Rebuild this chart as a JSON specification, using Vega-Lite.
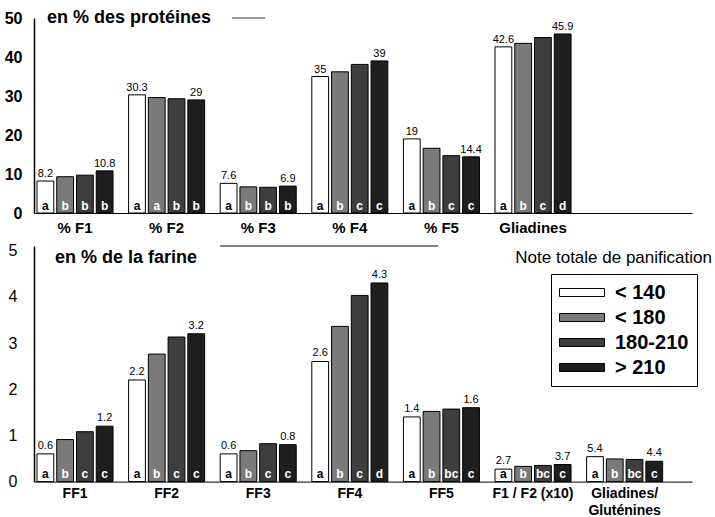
{
  "$schema": "https://vega.github.io/schema/vega-lite/v6.json",
  "padding": {"left": 4, "top": 9, "right": 0, "bottom": 0},
  "background": "white",
  "config": {
    "font": "Liberation Sans",
    "view": {"stroke": null},
    "axis": {"grid": false, "ticks": false, "domainColor": "black", "labelColor": "black", "title": null, "labelOverlap": false}
  },
  "datasets": {
    "proteines": [
      {"fraction": "% F1", "classe": "< 140", "valeur": 8.2, "etiquette": "8.2", "lettre": "a"},
      {"fraction": "% F1", "classe": "< 180", "valeur": 9.3, "etiquette": "", "lettre": "b"},
      {"fraction": "% F1", "classe": "180-210", "valeur": 9.7, "etiquette": "", "lettre": "b"},
      {"fraction": "% F1", "classe": "> 210", "valeur": 10.8, "etiquette": "10.8", "lettre": "b"},
      {"fraction": "% F2", "classe": "< 140", "valeur": 30.3, "etiquette": "30.3", "lettre": "a"},
      {"fraction": "% F2", "classe": "< 180", "valeur": 29.6, "etiquette": "", "lettre": "a"},
      {"fraction": "% F2", "classe": "180-210", "valeur": 29.3, "etiquette": "", "lettre": "b"},
      {"fraction": "% F2", "classe": "> 210", "valeur": 29, "etiquette": "29", "lettre": "b"},
      {"fraction": "% F3", "classe": "< 140", "valeur": 7.6, "etiquette": "7.6", "lettre": "a"},
      {"fraction": "% F3", "classe": "< 180", "valeur": 6.7, "etiquette": "", "lettre": "b"},
      {"fraction": "% F3", "classe": "180-210", "valeur": 6.6, "etiquette": "", "lettre": "b"},
      {"fraction": "% F3", "classe": "> 210", "valeur": 6.9, "etiquette": "6.9", "lettre": "b"},
      {"fraction": "% F4", "classe": "< 140", "valeur": 35, "etiquette": "35", "lettre": "a"},
      {"fraction": "% F4", "classe": "< 180", "valeur": 36.2, "etiquette": "", "lettre": "b"},
      {"fraction": "% F4", "classe": "180-210", "valeur": 38.1, "etiquette": "", "lettre": "c"},
      {"fraction": "% F4", "classe": "> 210", "valeur": 39, "etiquette": "39", "lettre": "c"},
      {"fraction": "% F5", "classe": "< 140", "valeur": 19, "etiquette": "19", "lettre": "a"},
      {"fraction": "% F5", "classe": "< 180", "valeur": 16.6, "etiquette": "", "lettre": "b"},
      {"fraction": "% F5", "classe": "180-210", "valeur": 14.7, "etiquette": "", "lettre": "c"},
      {"fraction": "% F5", "classe": "> 210", "valeur": 14.4, "etiquette": "14.4", "lettre": "c"},
      {"fraction": "Gliadines", "classe": "< 140", "valeur": 42.6, "etiquette": "42.6", "lettre": "a"},
      {"fraction": "Gliadines", "classe": "< 180", "valeur": 43.5, "etiquette": "", "lettre": "b"},
      {"fraction": "Gliadines", "classe": "180-210", "valeur": 45.0, "etiquette": "", "lettre": "c"},
      {"fraction": "Gliadines", "classe": "> 210", "valeur": 45.9, "etiquette": "45.9", "lettre": "d"}
    ],
    "farine": [
      {"fraction": "FF1", "classe": "< 140", "valeur": 0.6, "etiquette": "0.6", "lettre": "a"},
      {"fraction": "FF1", "classe": "< 180", "valeur": 0.91, "etiquette": "", "lettre": "b"},
      {"fraction": "FF1", "classe": "180-210", "valeur": 1.08, "etiquette": "", "lettre": "c"},
      {"fraction": "FF1", "classe": "> 210", "valeur": 1.2, "etiquette": "1.2", "lettre": "c"},
      {"fraction": "FF2", "classe": "< 140", "valeur": 2.2, "etiquette": "2.2", "lettre": "a"},
      {"fraction": "FF2", "classe": "< 180", "valeur": 2.76, "etiquette": "", "lettre": "b"},
      {"fraction": "FF2", "classe": "180-210", "valeur": 3.13, "etiquette": "", "lettre": "c"},
      {"fraction": "FF2", "classe": "> 210", "valeur": 3.2, "etiquette": "3.2", "lettre": "c"},
      {"fraction": "FF3", "classe": "< 140", "valeur": 0.6, "etiquette": "0.6", "lettre": "a"},
      {"fraction": "FF3", "classe": "< 180", "valeur": 0.67, "etiquette": "", "lettre": "b"},
      {"fraction": "FF3", "classe": "180-210", "valeur": 0.82, "etiquette": "", "lettre": "c"},
      {"fraction": "FF3", "classe": "> 210", "valeur": 0.8, "etiquette": "0.8", "lettre": "c"},
      {"fraction": "FF4", "classe": "< 140", "valeur": 2.6, "etiquette": "2.6", "lettre": "a"},
      {"fraction": "FF4", "classe": "< 180", "valeur": 3.36, "etiquette": "", "lettre": "b"},
      {"fraction": "FF4", "classe": "180-210", "valeur": 4.03, "etiquette": "", "lettre": "c"},
      {"fraction": "FF4", "classe": "> 210", "valeur": 4.3, "etiquette": "4.3", "lettre": "d"},
      {"fraction": "FF5", "classe": "< 140", "valeur": 1.4, "etiquette": "1.4", "lettre": "a"},
      {"fraction": "FF5", "classe": "< 180", "valeur": 1.52, "etiquette": "", "lettre": "b"},
      {"fraction": "FF5", "classe": "180-210", "valeur": 1.57, "etiquette": "", "lettre": "bc"},
      {"fraction": "FF5", "classe": "> 210", "valeur": 1.6, "etiquette": "1.6", "lettre": "c"},
      {"fraction": "F1 / F2 (x10)", "classe": "< 140", "valeur": 0.27, "etiquette": "2.7", "lettre": "a"},
      {"fraction": "F1 / F2 (x10)", "classe": "< 180", "valeur": 0.33, "etiquette": "", "lettre": "b"},
      {"fraction": "F1 / F2 (x10)", "classe": "180-210", "valeur": 0.35, "etiquette": "", "lettre": "bc"},
      {"fraction": "F1 / F2 (x10)", "classe": "> 210", "valeur": 0.37, "etiquette": "3.7", "lettre": "c"},
      {"fraction": "Gliadines/Gluténines", "classe": "< 140", "valeur": 0.54, "etiquette": "5.4", "lettre": "a"},
      {"fraction": "Gliadines/Gluténines", "classe": "< 180", "valeur": 0.49, "etiquette": "", "lettre": "b"},
      {"fraction": "Gliadines/Gluténines", "classe": "180-210", "valeur": 0.48, "etiquette": "", "lettre": "bc"},
      {"fraction": "Gliadines/Gluténines", "classe": "> 210", "valeur": 0.44, "etiquette": "4.4", "lettre": "c"}
    ]
  },
  "bounds": "flush",
  "spacing": 33,
  "vconcat": [
    {
      "width": 658,
      "height": 195,
      "data": {"name": "proteines"},
      "encoding": {
        "x": {
          "field": "fraction", "type": "nominal",
          "scale": {"domain": ["% F1", "% F2", "% F3", "% F4", "% F5", "Gliadines"], "paddingInner": 0.17, "paddingOuter": 0.6766, "align": 0.0242},
          "axis": {"labelAngle": 0, "labelFontWeight": "bold", "labelFontSize": 15, "labelPadding": 7}
        },
        "y": {
          "field": "valeur", "type": "quantitative",
          "scale": {"domain": [0, 50], "nice": false},
          "axis": {"values": [0, 10, 20, 30, 40, 50], "labelFontWeight": "bold", "labelFontSize": 16, "labelPadding": 12, "domainWidth": 1.5}
        }
      },
      "layer": [
        {
          "mark": {"type": "bar", "stroke": "black", "strokeWidth": 1},
          "encoding": {
            "xOffset": {"field": "classe", "type": "nominal", "scale": {"domain": ["< 140", "< 180", "180-210", "> 210"], "paddingInner": 0.15}},
            "fill": {
              "field": "classe", "type": "nominal",
              "scale": {"domain": ["< 140", "< 180", "180-210", "> 210"], "range": ["#ffffff", "#7a7a7a", "#3e3e3e", "#1e1e1e"]},
              "legend": {
                "title": null, "orient": "none", "legendX": 517, "legendY": 256,
                "strokeColor": "black", "fillColor": "white", "padding": 8,
                "symbolType": "M-1,-0.4H3.5V0.4H-1Z", "symbolSize": 400,
                "symbolStrokeColor": "black", "symbolStrokeWidth": 1,
                "labelFont": "Liberation Sans", "labelFontSize": 20, "labelFontWeight": "bold",
                "labelOffset": 35, "rowPadding": 4
              }
            }
          }
        },
        {
          "mark": {"type": "text", "baseline": "bottom", "dy": -2, "fontSize": 11, "color": "black"},
          "encoding": {
            "xOffset": {"field": "classe", "type": "nominal", "scale": {"domain": ["< 140", "< 180", "180-210", "> 210"], "paddingInner": 0.15}},
            "text": {"field": "etiquette"}
          }
        },
        {
          "mark": {"type": "text", "baseline": "middle", "dy": -7, "fontSize": 12, "fontWeight": "bold"},
          "encoding": {
            "xOffset": {"field": "classe", "type": "nominal", "scale": {"domain": ["< 140", "< 180", "180-210", "> 210"], "paddingInner": 0.15}},
            "y": {"datum": 0},
            "text": {"field": "lettre"},
            "fill": {"condition": {"test": "datum.classe === '< 140'", "value": "black"}, "value": "white"}
          }
        },
        {
          "transform": [{"filter": "datum.fraction === '% F1' && datum.classe === '< 140'"}],
          "mark": {"type": "text", "text": "en % des protéines", "align": "left", "baseline": "middle", "dx": 10, "fontSize": 18, "fontWeight": "bold", "color": "black"},
          "encoding": {"x": {"field": "fraction", "type": "nominal", "bandPosition": 0}, "y": {"datum": 50}}
        },
        {
          "transform": [{"filter": "datum.fraction === '% F3' && datum.classe === '< 140'"}],
          "mark": {"type": "rule", "color": "#333333", "strokeWidth": 1},
          "encoding": {"x": {"field": "fraction", "type": "nominal", "bandPosition": 0.155}, "x2": {"datum": "% F3", "bandPosition": 0.59}, "y": {"datum": 50}}
        }
      ]
    },
    {
      "width": 658,
      "height": 235.6,
      "data": {"name": "farine"},
      "encoding": {
        "x": {
          "field": "fraction", "type": "nominal",
          "scale": {"domain": ["FF1", "FF2", "FF3", "FF4", "FF5", "F1 / F2 (x10)", "Gliadines/Gluténines"], "paddingInner": 0.17, "paddingOuter": 0.1766, "align": 0.0926},
          "axis": {
            "labelAngle": 0, "labelFontWeight": "bold", "labelFontSize": 14, "labelPadding": 5, "labelLineHeight": 17,
            "labelExpr": "datum.value == 'Gliadines/Gluténines' ? ['Gliadines/', 'Gluténines'] : datum.label"
          }
        },
        "y": {
          "field": "valeur", "type": "quantitative",
          "scale": {"domain": [0, 5.1], "nice": false},
          "axis": {"values": [0, 1, 2, 3, 4, 5], "labelFontSize": 16, "labelPadding": 17, "domainWidth": 1.5}
        }
      },
      "layer": [
        {
          "mark": {"type": "bar", "stroke": "black", "strokeWidth": 1},
          "encoding": {
            "xOffset": {"field": "classe", "type": "nominal", "scale": {"domain": ["< 140", "< 180", "180-210", "> 210"], "paddingInner": 0.15}},
            "fill": {
              "field": "classe", "type": "nominal",
              "scale": {"domain": ["< 140", "< 180", "180-210", "> 210"], "range": ["#ffffff", "#7a7a7a", "#3e3e3e", "#1e1e1e"]},
              "legend": {
                "title": null, "orient": "none", "legendX": 517, "legendY": 256,
                "strokeColor": "black", "fillColor": "white", "padding": 8,
                "symbolType": "M-1,-0.4H3.5V0.4H-1Z", "symbolSize": 400,
                "symbolStrokeColor": "black", "symbolStrokeWidth": 1,
                "labelFont": "Liberation Sans", "labelFontSize": 20, "labelFontWeight": "bold",
                "labelOffset": 35, "rowPadding": 4
              }
            }
          }
        },
        {
          "mark": {"type": "text", "baseline": "bottom", "dy": -3, "fontSize": 11, "color": "black"},
          "encoding": {
            "xOffset": {"field": "classe", "type": "nominal", "scale": {"domain": ["< 140", "< 180", "180-210", "> 210"], "paddingInner": 0.15}},
            "text": {"field": "etiquette"}
          }
        },
        {
          "mark": {"type": "text", "baseline": "middle", "dy": -8, "fontSize": 12, "fontWeight": "bold"},
          "encoding": {
            "xOffset": {"field": "classe", "type": "nominal", "scale": {"domain": ["< 140", "< 180", "180-210", "> 210"], "paddingInner": 0.15}},
            "y": {"datum": 0},
            "text": {"field": "lettre"},
            "fill": {"condition": {"test": "datum.classe === '< 140'", "value": "black"}, "value": "white"}
          }
        },
        {
          "transform": [{"filter": "datum.fraction === 'FF1' && datum.classe === '< 140'"}],
          "mark": {"type": "text", "text": "en % de la farine", "align": "left", "baseline": "middle", "dx": 18, "fontSize": 18, "fontWeight": "bold", "color": "black"},
          "encoding": {"x": {"field": "fraction", "type": "nominal", "bandPosition": 0}, "y": {"datum": 4.85}}
        },
        {
          "transform": [{"filter": "datum.fraction === 'Gliadines/Gluténines' && datum.classe === '< 140'"}],
          "mark": {"type": "text", "text": "Note totale de panification", "align": "center", "baseline": "middle", "dx": -11, "fontSize": 17, "color": "black"},
          "encoding": {"x": {"field": "fraction", "type": "nominal"}, "y": {"datum": 4.85}}
        },
        {
          "transform": [{"filter": "datum.fraction === 'FF3' && datum.classe === '< 140'"}],
          "mark": {"type": "rule", "color": "black", "strokeWidth": 1.2},
          "encoding": {"x": {"field": "fraction", "type": "nominal", "bandPosition": 0}, "x2": {"datum": "FF5", "bandPosition": 0.455}, "y": {"datum": 5.1}}
        }
      ]
    }
  ]
}
